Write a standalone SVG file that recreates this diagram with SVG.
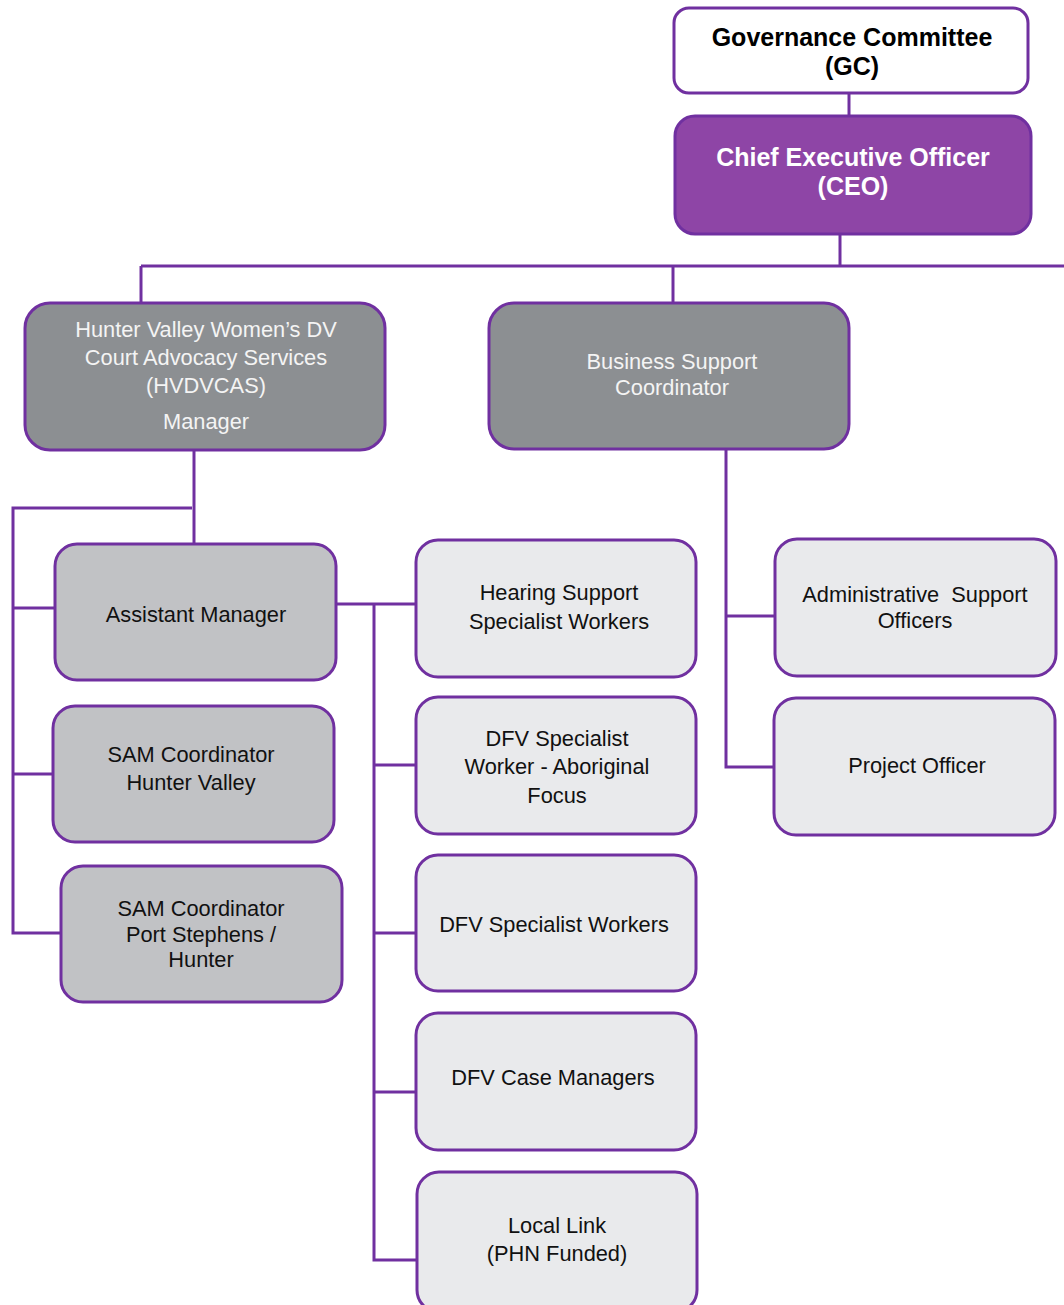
<svg xmlns="http://www.w3.org/2000/svg" width="1064" height="1305" viewBox="0 0 1064 1305">
<style>
.box{stroke:#7030A0;stroke-width:3}
.w{fill:#ffffff}
.ceo{fill:#8E45A6}
.dk{fill:#8C8F92}
.md{fill:#C1C2C5}
.lt{fill:#E9EAEC}
.c{fill:none;stroke:#7030A0;stroke-width:3}
text{font-family:"Liberation Sans",Arial,sans-serif;text-anchor:middle}
.t{font-size:21.8px;fill:#111111}
.tw{font-size:21.8px;fill:#F4F4F4}
.b{font-size:25px;font-weight:bold;fill:#000000}
.bw{font-size:25px;font-weight:bold;fill:#FFFFFF}
</style>
<rect width="1064" height="1305" fill="#ffffff"/>
<g id="connectors">
<path class="c" d="M849 93V116"/>
<path class="c" d="M840 234V266"/>
<path class="c" d="M141 266H1064"/>
<path class="c" d="M141 266V303"/>
<path class="c" d="M673 266V303"/>
<path class="c" d="M194 450V544"/>
<path class="c" d="M192 508H13V933H61"/>
<path class="c" d="M13 608H55"/>
<path class="c" d="M13 774H53"/>
<path class="c" d="M336 604H416"/>
<path class="c" d="M374 604V1260H416"/>
<path class="c" d="M374 765H416"/>
<path class="c" d="M374 933H416"/>
<path class="c" d="M374 1092H416"/>
<path class="c" d="M726 449V767H775"/>
<path class="c" d="M726 616H776"/>
</g>
<g id="gc">
<rect class="box w" x="674" y="8" width="354" height="85" rx="15"/>
<text class="b" x="852" y="46">Governance Committee</text>
<text class="b" x="852" y="75">(GC)</text>
</g>
<g id="ceo">
<rect class="box ceo" x="675" y="116" width="356" height="118" rx="20"/>
<text class="bw" x="853" y="166">Chief Executive Officer</text>
<text class="bw" x="853" y="195">(CEO)</text>
</g>
<g id="hvdvcas">
<rect class="box dk" x="25" y="303" width="360" height="147" rx="25"/>
<text class="tw" x="206" y="337">Hunter Valley Women’s DV</text>
<text class="tw" x="206" y="365">Court Advocacy Services</text>
<text class="tw" x="206" y="393">(HVDVCAS)</text>
<text class="tw" x="206" y="429">Manager</text>
</g>
<g id="business">
<rect class="box dk" x="489" y="303" width="360" height="146" rx="25"/>
<text class="tw" x="672" y="369">Business Support</text>
<text class="tw" x="672" y="395">Coordinator</text>
</g>
<g id="assistant">
<rect class="box md" x="55" y="544" width="281" height="136" rx="22"/>
<text class="t" x="196" y="622">Assistant Manager</text>
</g>
<g id="samhv">
<rect class="box md" x="53" y="706" width="281" height="136" rx="22"/>
<text class="t" x="191" y="762">SAM Coordinator</text>
<text class="t" x="191" y="790">Hunter Valley</text>
</g>
<g id="samps">
<rect class="box md" x="61" y="866" width="281" height="136" rx="22"/>
<text class="t" x="201" y="916">SAM Coordinator</text>
<text class="t" x="201" y="942">Port Stephens /</text>
<text class="t" x="201" y="967">Hunter</text>
</g>
<g id="hearing">
<rect class="box lt" x="416" y="540" width="280" height="137" rx="22"/>
<text class="t" x="559" y="600">Hearing Support</text>
<text class="t" x="559" y="629">Specialist Workers</text>
</g>
<g id="dfvab">
<rect class="box lt" x="416" y="697" width="280" height="137" rx="22"/>
<text class="t" x="557" y="746">DFV Specialist</text>
<text class="t" x="557" y="774">Worker - Aboriginal</text>
<text class="t" x="557" y="803">Focus</text>
</g>
<g id="dfvsw">
<rect class="box lt" x="416" y="855" width="280" height="136" rx="22"/>
<text class="t" x="554" y="932">DFV Specialist Workers</text>
</g>
<g id="dfvcm">
<rect class="box lt" x="416" y="1013" width="280" height="137" rx="22"/>
<text class="t" x="553" y="1085">DFV Case Managers</text>
</g>
<g id="locallink">
<rect class="box lt" x="417" y="1172" width="280" height="140" rx="22"/>
<text class="t" x="557" y="1233">Local Link</text>
<text class="t" x="557" y="1261">(PHN Funded)</text>
</g>
<g id="admin">
<rect class="box lt" x="775" y="539" width="281" height="137" rx="22"/>
<text class="t" x="915" y="602" xml:space="preserve">Administrative  Support</text>
<text class="t" x="915" y="628">Officers</text>
</g>
<g id="project">
<rect class="box lt" x="774" y="698" width="281" height="137" rx="22"/>
<text class="t" x="917" y="773">Project Officer</text>
</g>
</svg>
